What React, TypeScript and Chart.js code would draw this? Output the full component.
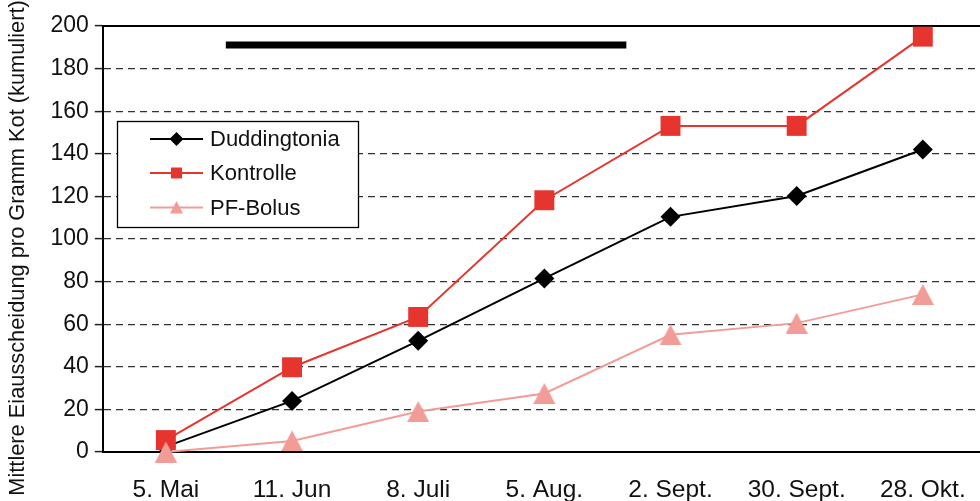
import React, { useEffect, useRef } from 'react';
import { Chart, registerables } from 'chart.js';

Chart.register(...registerables);

const categories = ['5. Mai', '11. Jun', '8. Juli', '5. Aug.', '2. Sept.', '30. Sept.', '28. Okt.'];
const seriesNames = ['Duddingtonia', 'Kontrolle', 'PF-Bolus'];
const duddingtonia = [2.5, 24, 52.2, 81.5, 110.4, 120.2, 142];
const kontrolle = [5.6, 39.8, 63.4, 118.2, 153.1, 153.1, 195];
const pfBolus = [0, 5.2, 19, 27.5, 55, 60.5, 74];
const periodBarX = [0.475, 3.65];
const periodBarY = [191.1, 191.1];
const yTicks = [0, 20, 40, 60, 80, 100, 120, 140, 160, 180, 200];
const yAxisTitle = 'Mittlere Eiausscheidung pro Gramm Kot (kumuliert)';

const BLACK = '#000000';
const RED = '#e6352f';
const PINK = '#f29c98';
const FONT = "'Liberation Sans', Arial, Helvetica, sans-serif";

function makeTriangle(w: number, h: number, color: string) {
  const c = document.createElement('canvas');
  c.width = w;
  c.height = h;
  const g = c.getContext('2d')!;
  g.fillStyle = color;
  g.beginPath();
  g.moveTo(0, h);
  g.lineTo(w, h);
  g.lineTo(w / 2, 0);
  g.closePath();
  g.fill();
  return c;
}

const decorPlugin = {
  id: 'decor',
  beforeDatasetsDraw(chart: any) {
    const { ctx, chartArea } = chart;
    ctx.save();
    ctx.strokeStyle = BLACK;
    ctx.lineWidth = 2;
    ctx.beginPath();
    ctx.moveTo(chartArea.left - 1, chartArea.top);
    ctx.lineTo(chartArea.right, chartArea.top);
    ctx.stroke();
    ctx.restore();
  },
  afterDatasetsDraw(chart: any) {
    const { ctx } = chart;
    ctx.save();
    const bx = 117.5, by = 121.5, bw = 241, bh = 106;
    ctx.fillStyle = '#ffffff';
    ctx.fillRect(bx, by, bw, bh);
    ctx.strokeStyle = BLACK;
    ctx.lineWidth = 1.3;
    ctx.strokeRect(bx, by, bw, bh);
    const rows = [139, 173, 207.5];
    const colors = [BLACK, RED, PINK];
    const lx1 = 150, lx2 = 203, mx = 176.5;
    rows.forEach((ry, i) => {
      ctx.strokeStyle = colors[i];
      ctx.lineWidth = 2;
      ctx.beginPath();
      ctx.moveTo(lx1, ry);
      ctx.lineTo(lx2, ry);
      ctx.stroke();
      ctx.fillStyle = colors[i];
      ctx.beginPath();
      if (i === 0) {
        const r = 7;
        ctx.moveTo(mx - r, ry);
        ctx.lineTo(mx, ry - r);
        ctx.lineTo(mx + r, ry);
        ctx.lineTo(mx, ry + r);
        ctx.closePath();
      } else if (i === 1) {
        ctx.rect(mx - 5.5, ry - 5.5, 11, 11);
      } else {
        ctx.moveTo(mx - 6.5, ry + 6);
        ctx.lineTo(mx + 6.5, ry + 6);
        ctx.lineTo(mx, ry - 6.5);
        ctx.closePath();
      }
      ctx.fill();
      ctx.fillStyle = '#111111';
      ctx.font = `22px ${FONT}`;
      ctx.textAlign = 'left';
      ctx.textBaseline = 'middle';
      ctx.fillText(seriesNames[i], 210, ry + 1);
    });
    ctx.restore();
  },
  afterDraw(chart: any) {
    const { ctx } = chart;
    ctx.save();
    ctx.translate(24, 248);
    ctx.rotate(-Math.PI / 2);
    ctx.fillStyle = '#111111';
    ctx.font = `21.8px ${FONT}`;
    ctx.textAlign = 'center';
    ctx.textBaseline = 'alphabetic';
    ctx.fillText(yAxisTitle, 0, 0);
    ctx.restore();
  },
};

export default function App() {
  const ref = useRef<HTMLCanvasElement | null>(null);

  useEffect(() => {
    if (!ref.current) return;
    const tri = makeTriangle(22, 21, PINK);
    const toXY = (arr: number[]) => arr.map((v, i) => ({ x: i, y: v }));
    const chart = new Chart(ref.current, {
      type: 'line',
      data: {
        datasets: [
          {
            label: 'Zeitraum',
            data: periodBarX.map((x, i) => ({ x, y: periodBarY[i] })),
            borderColor: BLACK,
            borderWidth: 7,
            borderCapStyle: 'butt',
            pointRadius: 0,
            order: 3,
            clip: false,
          },
          {
            label: seriesNames[0],
            data: toXY(duddingtonia),
            borderColor: BLACK,
            backgroundColor: BLACK,
            borderWidth: 2,
            pointStyle: 'rectRot',
            pointRadius: 10,
            pointBorderWidth: 0,
            pointBackgroundColor: BLACK,
            order: 2,
            clip: false,
          },
          {
            label: seriesNames[1],
            data: toXY(kontrolle),
            borderColor: RED,
            backgroundColor: RED,
            borderWidth: 2,
            pointStyle: 'rect',
            pointRadius: 14.1,
            pointBorderWidth: 0,
            pointBackgroundColor: RED,
            order: 1,
            clip: false,
          },
          {
            label: seriesNames[2],
            data: toXY(pfBolus),
            borderColor: PINK,
            backgroundColor: PINK,
            borderWidth: 2,
            pointStyle: tri,
            pointRadius: 11,
            pointBorderWidth: 0,
            order: 0,
            clip: false,
          },
        ],
      } as any,
      options: {
        animation: false,
        responsive: false,
        events: [],
        layout: { padding: { left: 0, right: 11, top: 26, bottom: 0 } },
        plugins: {
          legend: { display: false },
          title: { display: false },
          tooltip: { enabled: false },
        },
        scales: {
          x: {
            type: 'linear',
            min: -0.5,
            max: 6.5,
            afterBuildTicks: (scale: any) => {
              scale.ticks = categories.map((_, i) => ({ value: i }));
            },
            afterFit: (scale: any) => {
              scale.height = 49;
            },
            grid: { display: false, drawTicks: false },
            border: { display: true, color: BLACK, width: 2 },
            ticks: {
              autoSkip: false,
              maxRotation: 0,
              minRotation: 0,
              padding: 24,
              color: '#111111',
              font: { family: FONT, size: 24.5 },
              callback: (v: any) => (Number.isInteger(v) && categories[v] !== undefined ? categories[v] : ''),
            },
          },
          y: {
            type: 'linear',
            min: 0,
            max: 200,
            afterBuildTicks: (scale: any) => {
              scale.ticks = yTicks.map((v) => ({ value: v }));
            },
            afterFit: (scale: any) => {
              scale.width = 102.8;
            },
            grid: {
              display: true,
              drawTicks: true,
              tickLength: 8,
              lineWidth: 1.2,
              color: (c: any) =>
                c.tick && (c.tick.value === 0 || c.tick.value === 200) ? 'rgba(0,0,0,0)' : '#333333',
              tickColor: '#222222',
              tickWidth: 1.5,
            },
            border: { display: true, color: BLACK, width: 2, dash: [7, 5] },
            ticks: {
              padding: 6,
              color: '#111111',
              font: { family: FONT, size: 23 },
            },
          },
        },
      } as any,
      plugins: [decorPlugin],
    });
    return () => chart.destroy();
  }, []);

  return (
    <div
      style={{
        position: 'absolute',
        left: 0,
        top: 0,
        width: 980,
        height: 501,
        overflow: 'hidden',
        background: '#ffffff',
      }}
    >
      <canvas ref={ref} width={1000} height={501} style={{ display: 'block', width: 1000, height: 501 }} />
    </div>
  );
}
